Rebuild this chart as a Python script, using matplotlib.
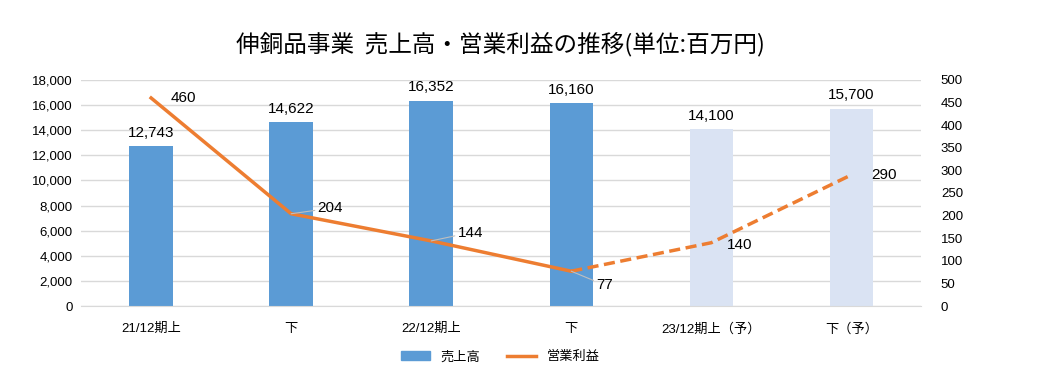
import matplotlib.pyplot as plt
from matplotlib.lines import Line2D
from matplotlib.patches import Patch

plt.rcParams['font.family'] = ['Liberation Sans', 'Noto Sans CJK JP', 'DejaVu Sans']

categories = ["21/12期上", "下", "22/12期上", "下", "23/12期上（予）", "下（予）"]
sales = [12743, 14622, 16352, 16160, 14100, 15700]
profit = [460, 204, 144, 77, 140, 290]
is_forecast = [False, False, False, False, True, True]

BLUE = "#5B9BD5"
LIGHT = "#DAE3F3"
ORANGE = "#ED7D31"

fig = plt.figure(figsize=(10.53, 3.84), dpi=100)
ax = fig.add_axes([0.077, 0.203, 0.798, 0.589])
ax2 = ax.twinx()

x = list(range(len(categories)))
colors = [LIGHT if f else BLUE for f in is_forecast]
ax.bar(x, sales, width=0.31, color=colors, zorder=2)
for i, v in enumerate(sales):
    ax.text(i, v + 500, f"{v:,}", ha="center", va="bottom", fontsize=11)

ax.set_xlim(-0.5, len(categories) - 0.5)
ax.set_ylim(0, 18000)
ax.set_yticks(range(0, 18001, 2000))
ax.set_yticklabels([f"{v:,}" for v in range(0, 18001, 2000)], fontsize=9.5)
ax.set_xticks(x)
ax.set_xticklabels(categories, fontsize=9.5)
ax.yaxis.grid(True, color="#D9D9D9", linewidth=1, zorder=0)
ax.set_axisbelow(True)
ax.tick_params(length=0, pad=6)
ax.tick_params(axis="x", pad=12)
for s in ax.spines.values():
    s.set_visible(False)
ax.spines["bottom"].set_visible(True)
ax.spines["bottom"].set_color("#D9D9D9")

# actual (solid) and forecast (dashed)
n_act = sum(1 for f in is_forecast if not f)
ax2.plot(x[:n_act], profit[:n_act], color=ORANGE, linewidth=2.5, zorder=3)
ax2.plot(x[n_act - 1:], profit[n_act - 1:], color=ORANGE, linewidth=2.5,
         linestyle=(0, (3.2, 1.6)), zorder=3)
ax2.set_ylim(0, 500)
ax2.set_yticks(range(0, 501, 50))
ax2.set_yticklabels([str(v) for v in range(0, 501, 50)], fontsize=9.5)
ax2.tick_params(length=0, pad=14)
for s in ax2.spines.values():
    s.set_visible(False)

# profit labels (offsets in points)
offsets = [(14, 0), (19, 4), (19, 6), (18, -10), (11, -2), (14, 0)]
leader = [False, True, True, True, False, False]
for i, v in enumerate(profit):
    dx, dy = offsets[i]
    ax2.annotate(str(v), (i, v), xytext=(dx, dy), textcoords="offset points",
                 ha="left", va="center", fontsize=11,
                 arrowprops=dict(arrowstyle="-", color="#BFBFBF", lw=0.8,
                                 shrinkA=0, shrinkB=0) if leader[i] else None)

fig.text(0.475, 0.885, "伸銅品事業  売上高・営業利益の推移(単位:百万円)",
         ha="center", va="center", fontsize=17, family="Noto Sans CJK JP")

handles = [Patch(color=BLUE), Line2D([0], [0], color=ORANGE, linewidth=2.5)]
fig.legend(handles, ["売上高", "営業利益"], loc="center", bbox_to_anchor=(0.475, 0.07),
           ncol=2, frameon=False, fontsize=9.5, handlelength=2.2, columnspacing=2)

fig.savefig("out.png", dpi=100)
